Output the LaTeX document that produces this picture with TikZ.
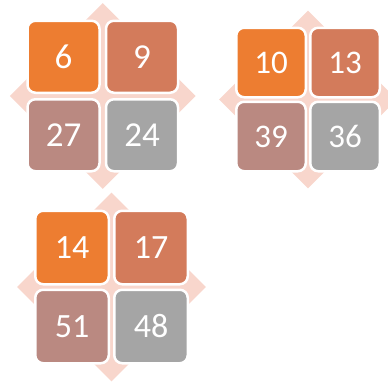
\documentclass[tikz,border=0pt]{standalone}
\usepackage{fontspec}
\setmainfont{Carlito}
\usetikzlibrary{shapes.geometric}
\definecolor{cpink}{HTML}{F8D6CC}
\definecolor{corange}{HTML}{ED7D31}
\definecolor{cterra}{HTML}{D37B5B}
\definecolor{cmauve}{HTML}{BA8981}
\definecolor{cgrey}{HTML}{A5A5A5}
\tikzset{
  bgdiamond/.style={diamond, fill=cpink, draw=none, inner sep=0pt, aspect=1},
  cell/.style={rectangle, rounded corners=8pt, draw=white, line width=2.5pt,
    inner sep=0pt, text=white, align=center},
  c1/.style={cell, fill=corange},
  c2/.style={cell, fill=cterra},
  c3/.style={cell, fill=cmauve},
  c4/.style={cell, fill=cgrey},
  gA/.style={minimum width=72pt, minimum height=72pt, font=\fontsize{35}{35}\selectfont},
  gB/.style={minimum width=69.5pt, minimum height=69.5pt, font=\fontsize{33}{33}\selectfont},
  gC/.style={minimum width=73.5pt, minimum height=73.5pt, font=\fontsize{34}{34}\selectfont},
}
\begin{document}
\begin{tikzpicture}[x=1pt,y=-1pt]
\useasboundingbox (0,0) rectangle (388,383);
% group 1
\node[bgdiamond, minimum size=186pt] (d1) at (102.75,96) {};
\node[c1,gA] (a1) at (63.5,56.75) {6};
\node[c2,gA] (a2) at (142,56.75) {9};
\node[c3,gA] (a3) at (63.5,135.25) {27};
\node[c4,gA] (a4) at (142,135.25) {24};
% group 2
\node[bgdiamond, minimum size=178pt] (d2) at (308,99.5) {};
\node[c1,gB] (b1) at (271,62.5) {10};
\node[c2,gB] (b2) at (345,62.5) {13};
\node[c3,gB] (b3) at (271,136.5) {39};
\node[c4,gB] (b4) at (345,136.5) {36};
% group 3
\node[bgdiamond, minimum size=189pt] (d3) at (111.5,287) {};
\node[c1,gC] (e1) at (72,247.5) {14};
\node[c2,gC] (e2) at (151,247.5) {17};
\node[c3,gC] (e3) at (72,326.5) {51};
\node[c4,gC] (e4) at (151,326.5) {48};
\end{tikzpicture}
\end{document}
